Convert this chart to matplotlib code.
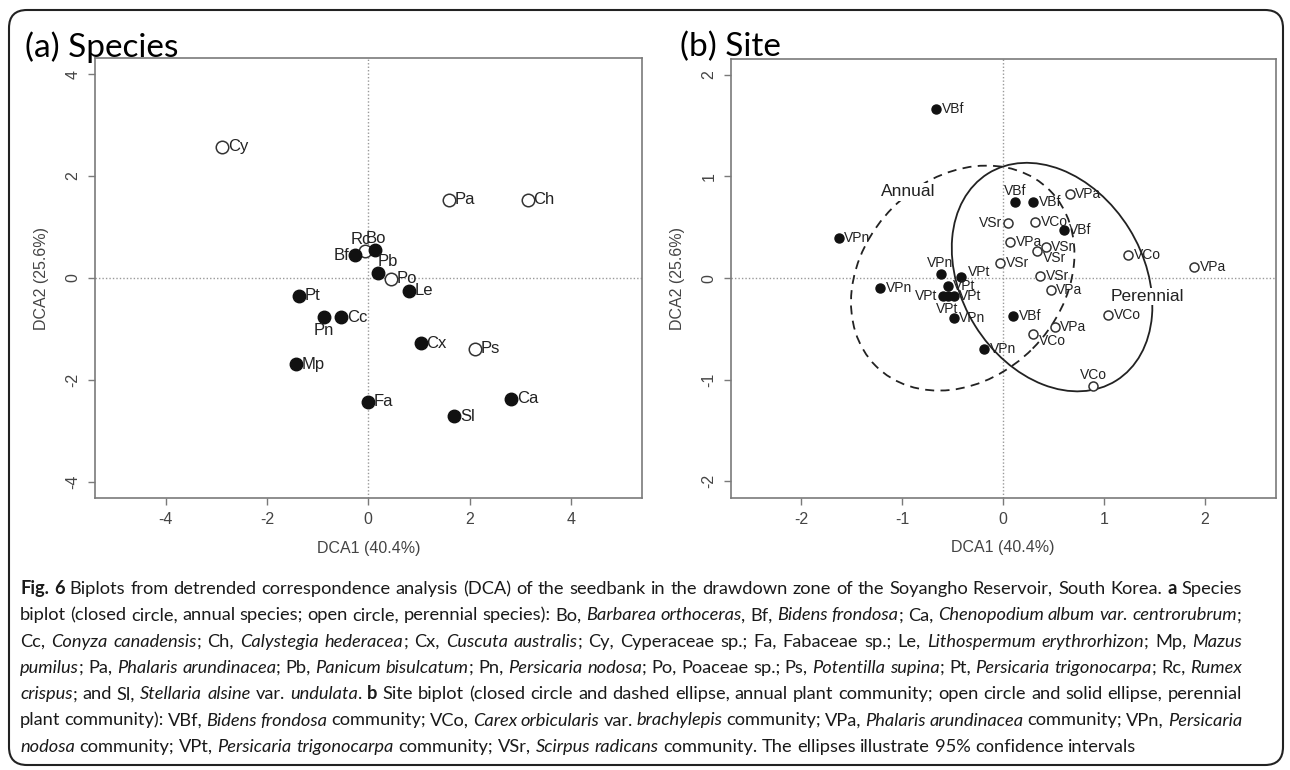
import re
import matplotlib
matplotlib.use('Agg')
import matplotlib.pyplot as plt
from matplotlib.patches import Ellipse, FancyBboxPatch
from matplotlib.transforms import IdentityTransform
from matplotlib.font_manager import FontProperties

plt.rcParams['font.family'] = ['Liberation Sans', 'DejaVu Sans']
plt.rcParams['axes.unicode_minus'] = False

# (a) species scores
sp_names = ['Cy', 'Pa', 'Ch', 'Rc', 'Bo', 'Bf', 'Pb', 'Po', 'Le', 'Pt', 'Pn', 'Cc',
            'Cx', 'Ps', 'Mp', 'Fa', 'Sl', 'Ca']
sp_x = [-2.88, 1.60, 3.15, -0.07, 0.14, -0.27, 0.19, 0.45, 0.81, -1.37, -0.87, -0.53,
        1.03, 2.10, -1.43, 0.00, 1.70, 2.82]
sp_y = [2.57, 1.53, 1.53, 0.53, 0.55, 0.45, 0.09, -0.01, -0.25, -0.35, -0.77, -0.77,
        -1.28, -1.39, -1.69, -2.43, -2.71, -2.37]
sp_annual = [0, 0, 0, 0, 1, 1, 1, 0, 1, 1, 1, 1, 1, 0, 1, 1, 1, 1]
sp_pos = ['r', 'r', 'r', 'al', 'a', 'l', 'ar', 'r', 'r', 'r', 'b', 'r',
          'r', 'r', 'r', 'r', 'r', 'r']

# (b) site scores
site_names = ['VBf', 'VPn', 'VPn', 'VPn', 'VPt', 'VPt', 'VPt', 'VPt', 'VPt', 'VPn',
              'VPn', 'VBf', 'VBf', 'VBf', 'VBf',
              'VSr', 'VCo', 'VPa', 'VSr', 'VSr', 'VSr', 'VSr', 'VPa', 'VPa', 'VCo',
              'VPa', 'VCo', 'VPa', 'VCo', 'VCo']
site_x = [-0.66, -1.63, -1.22, -0.62, -0.42, -0.55, -0.60, -0.55, -0.49, -0.49,
          -0.19, 0.10, 0.12, 0.30, 0.60,
          0.05, 0.32, 0.07, -0.03, 0.42, 0.34, 0.37, 0.47, 0.66, 1.24,
          1.89, 1.04, 0.51, 0.30, 0.89]
site_y = [1.66, 0.39, -0.10, 0.04, 0.01, -0.08, -0.18, -0.18, -0.18, -0.39,
          -0.70, -0.37, 0.75, 0.75, 0.47,
          0.54, 0.55, 0.36, 0.15, 0.31, 0.27, 0.02, -0.12, 0.83, 0.23,
          0.11, -0.36, -0.48, -0.55, -1.06]
site_annual = [1] * 15 + [0] * 15
site_pos = ['r', 'r', 'r', 'a', 'ur', 'r', 'l', 'b', 'r', 'r',
            'r', 'r', 'a', 'r', 'r',
            'l', 'r', 'r', 'r', 'r', 'dr', 'r', 'r', 'r', 'r',
            'r', 'r', 'r', 'dr', 'a']

# 95% ellipses: centre x, centre y, width, height, angle
ell_annual = (-0.40, 0.0, 2.44, 1.96, 45)
ell_perennial = (0.485, 0.01, 2.40, 1.80, -58)

caption = [
    "**Fig. 6** Biplots from detrended correspondence analysis (DCA) of the seedbank in the drawdown zone of the Soyangho Reservoir, South Korea. **a** Species",
    "biplot (closed circle, annual species; open circle, perennial species): Bo, *Barbarea orthoceras*, Bf, *Bidens frondosa*; Ca, *Chenopodium album var. centrorubrum*;",
    "Cc, *Conyza canadensis*; Ch, *Calystegia hederacea*; Cx, *Cuscuta australis*; Cy, Cyperaceae sp.; Fa, Fabaceae sp.; Le, *Lithospermum erythrorhizon*; Mp, *Mazus*",
    "*pumilus*; Pa, *Phalaris arundinacea*; Pb, *Panicum bisulcatum*; Pn, *Persicaria nodosa*; Po, Poaceae sp.; Ps, *Potentilla supina*; Pt, *Persicaria trigonocarpa*; Rc, *Rumex*",
    "*crispus*; and Sl, *Stellaria alsine* var. *undulata*. **b** Site biplot (closed circle and dashed ellipse, annual plant community; open circle and solid ellipse, perennial",
    "plant community): VBf, *Bidens frondosa* community; VCo, *Carex orbicularis* var. *brachylepis* community; VPa, *Phalaris arundinacea* community; VPn, *Persicaria*",
    "*nodosa* community; VPt, *Persicaria trigonocarpa* community; VSr, *Scirpus radicans* community. The ellipses illustrate 95% confidence intervals",
]

W, H = 1290, 770
fig = plt.figure(figsize=(W / 100, H / 100), dpi=100)

def px_axes(l, t, r, b):
    return fig.add_axes([l / W, 1 - b / H, (r - l) / W, (b - t) / H])

ax1 = px_axes(94.6, 57.7, 642, 498.3)
ax2 = px_axes(730.5, 58.5, 1275.7, 497.7)

GREY = '#7a7a7a'

def style_axes(ax, lim_x, lim_y, ticks_x, ticks_y):
    ax.set_xlim(-lim_x, lim_x)
    ax.set_ylim(-lim_y, lim_y)
    ax.set_xticks(ticks_x)
    ax.set_yticks(ticks_y)
    for s in ax.spines.values():
        s.set_color(GREY)
        s.set_linewidth(1.2)
    ax.tick_params(direction='out', length=5, width=1.0, color=GREY,
                   labelsize=11.5, labelcolor='#444444', pad=5)
    ax.tick_params(axis='y', labelrotation=90)
    for lab in ax.get_yticklabels():
        lab.set_va('center')
    ax.axhline(0, color='#999999', lw=1, ls=(0, (1, 1.5)), zorder=0)
    ax.axvline(0, color='#999999', lw=1, ls=(0, (1, 1.5)), zorder=0)
    ax.set_xlabel('DCA1 (40.4%)', fontsize=11.5, color='#444444', labelpad=10)
    ax.set_ylabel('DCA2 (25.6%)', fontsize=11.5, color='#444444', labelpad=12)

OFFS = {'r': (4, 0, 'left', 'center'), 'l': (-4, 0, 'right', 'center'),
        'a': (0, 3, 'center', 'bottom'), 'b': (0, -4, 'center', 'top'),
        'al': (-3, 3, 'center', 'bottom'), 'ar': (0, 3, 'left', 'bottom'),
        'ur': (5, 4, 'left', 'center'), 'dr': (4, -5, 'left', 'center')}

def scatter_labels(ax, xs, ys, annual, names, pos, ms, fs):
    for x, y, a, n, p in zip(xs, ys, annual, names, pos):
        if a:
            ax.plot(x, y, 'o', ms=ms, mfc='#111111', mec='#111111', mew=1, zorder=3)
        else:
            ax.plot(x, y, 'o', ms=ms, mfc='white', mec='#333333', mew=1.1, zorder=3)
        dx, dy, ha, va = OFFS[p]
        ax.annotate(n, (x, y), xytext=(dx, dy), textcoords='offset points',
                    ha=ha, va=va, fontsize=fs, color='#222222', zorder=4)

# panel a
style_axes(ax1, 5.4, 4.32, [-4, -2, 0, 2, 4], [-4, -2, 0, 2, 4])
scatter_labels(ax1, sp_x, sp_y, sp_annual, sp_names, sp_pos, 9, 12)

# panel b
style_axes(ax2, 2.7, 2.16, [-2, -1, 0, 1, 2], [-2, -1, 0, 1, 2])
cx, cy, w, h, ang = ell_annual
ax2.add_patch(Ellipse((cx, cy), w, h, angle=ang, fill=False, ec='#222222',
                      lw=1.3, ls=(0, (5, 3.5)), zorder=2))
cx, cy, w, h, ang = ell_perennial
ax2.add_patch(Ellipse((cx, cy), w, h, angle=ang, fill=False, ec='#222222',
                      lw=1.3, zorder=2))
scatter_labels(ax2, site_x, site_y, site_annual, site_names, site_pos, 6.5, 10)
ax2.text(-0.94, 0.85, 'Annual', fontsize=12.5, ha='center', va='center', color='#222222',
         bbox=dict(fc='white', ec='none', pad=1), zorder=2.5)
ax2.text(1.43, -0.18, 'Perennial', fontsize=12.5, ha='center', va='center', color='#222222',
         bbox=dict(fc='white', ec='none', pad=1), zorder=2.5)

# panel titles
fig.text(25 / W, 1 - 47 / H, '(a) Species', fontsize=24, family='Lato', va='center')
fig.text(680 / W, 1 - 47 / H, '(b) Site', fontsize=24, family='Lato', va='center')

# rounded frame
fig.add_artist(FancyBboxPatch((9, 5), 1274, 755, boxstyle='round,pad=0,rounding_size=18',
                              fc='none', ec='#222222', lw=1.5, transform=IdentityTransform()))

# caption, justified line by line
renderer = fig.canvas.get_renderer()
CAP_FONT = ['Lato', 'DejaVu Sans']

def make_props(size):
    return {'normal': FontProperties(family=CAP_FONT, size=size),
            'italic': FontProperties(family=CAP_FONT, style='italic', size=size),
            'bold': FontProperties(family=CAP_FONT, weight='bold', size=size)}

def text_w(s, prop):
    w1 = renderer.get_text_width_height_descent('x' + s + 'x', prop, ismath=False)[0]
    w0 = renderer.get_text_width_height_descent('xx', prop, ismath=False)[0]
    return w1 - w0

def words_of(line):
    words = [[]]
    for part in re.split(r'(\*\*[^*]+\*\*|\*[^*]+\*)', line):
        if not part:
            continue
        if part.startswith('**'):
            st, txt = 'bold', part[2:-2]
        elif part.startswith('*'):
            st, txt = 'italic', part[1:-1]
        else:
            st, txt = 'normal', part
        for i, p in enumerate(txt.split(' ')):
            if i > 0:
                words.append([])
            if p:
                words[-1].append((p, st))
    return [w for w in words if w]

cap_left, cap_right = 20, 1242
target = cap_right - cap_left
cap_words = [words_of(l) for l in caption]

def natural_width(props):
    sp = text_w(' ', props['normal'])
    out = []
    for ws in cap_words:
        tot = sum(text_w(p, props[st]) for w in ws for p, st in w)
        out.append(tot + sp * (len(ws) - 1))
    return out

fs0 = 14
nat = natural_width(make_props(fs0))
fs = fs0 * target / (sum(nat[:6]) / 6)
props = make_props(fs)
sp_nat = text_w(' ', props['normal'])

for i, ws in enumerate(cap_words):
    widths = [[text_w(p, props[st]) for p, st in w] for w in ws]
    tot = sum(sum(w) for w in widths)
    gap = (target - tot) / (len(ws) - 1) if i < len(cap_words) - 1 else sp_nat
    x = cap_left
    ybase = H - (594 + 26.3 * i)
    for w, wl in zip(ws, widths):
        for (p, st), pw in zip(w, wl):
            fig.text(x, ybase, p, fontproperties=props[st], va='baseline', ha='left',
                     color='#1a1a1a', transform=IdentityTransform())
            x += pw
        x += gap

fig.savefig('out.png', dpi=100)
